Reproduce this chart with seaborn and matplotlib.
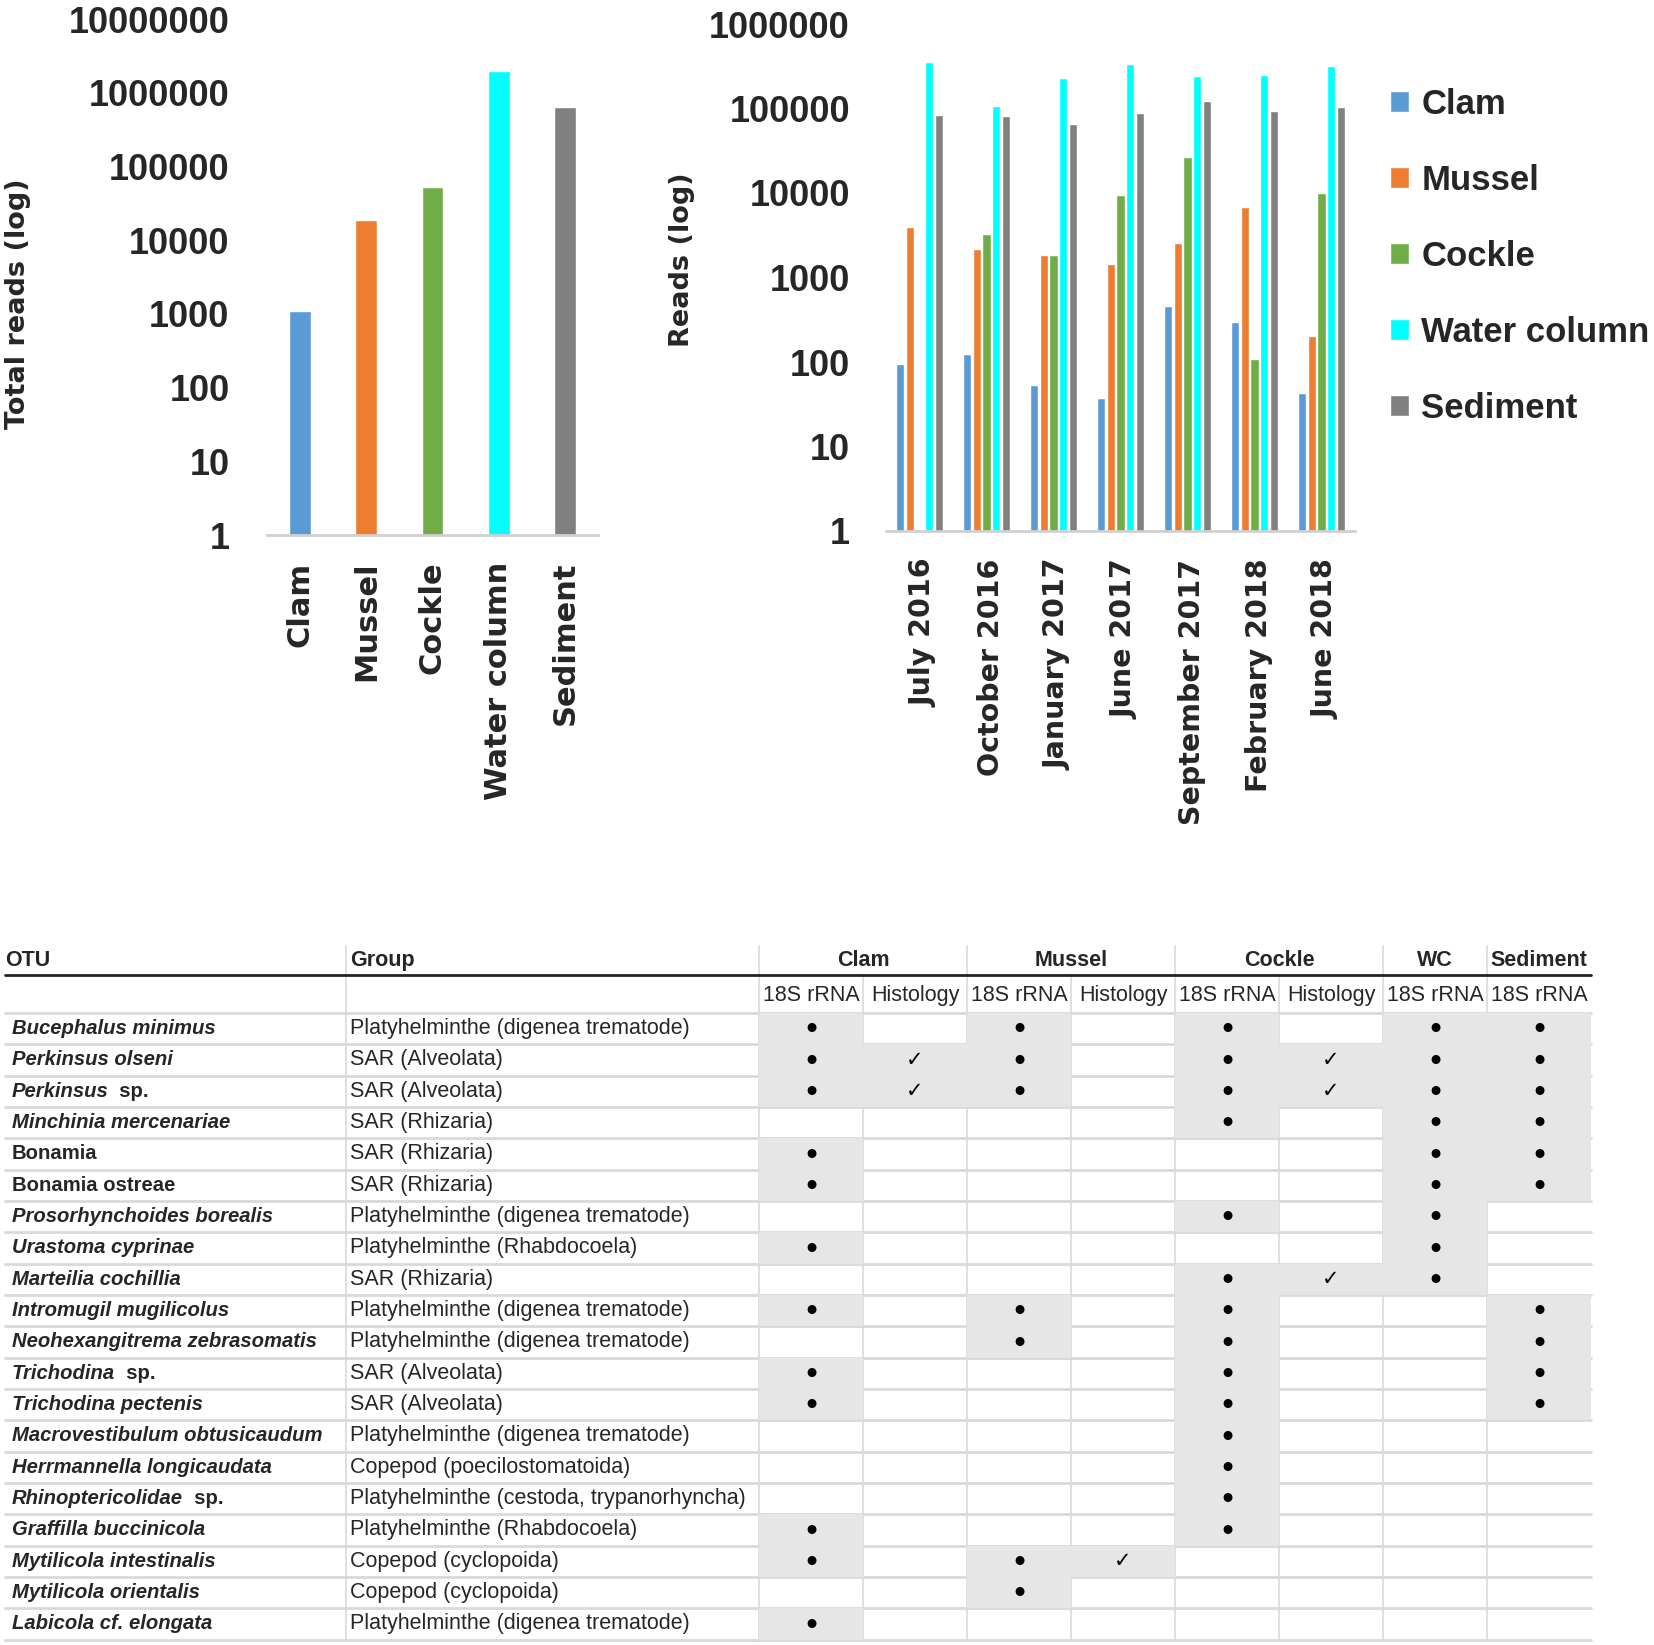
import numpy as np
import pandas as pd
import matplotlib
matplotlib.use("Agg")
import matplotlib.pyplot as plt
import matplotlib.ticker as mticker
from matplotlib.colors import ListedColormap
from matplotlib.patches import Patch
from matplotlib.transforms import blended_transform_factory, ScaledTranslation
import seaborn as sns

# ---- bar chart data ----
habitats = ["Clam", "Mussel", "Cockle", "Water column", "Sediment"]
habitat_colors = ["#5b9bd5", "#ed7d31", "#70ad47", "#00ffff", "#808080"]
total_reads = [1080, 18700, 52000, 1950000, 646000]

months = ["July 2016", "October 2016", "January 2017", "June 2017",
          "September 2017", "February 2018", "June 2018"]
clam_reads = [95, 123, 54, 37, 458, 298, 43]
mussel_reads = [3960, 2190, 1830, 1460, 2530, 6800, 205]
cockle_reads = [0, 3250, 1830, 9550, 26800, 109, 10000]
water_reads = [357000, 107000, 228000, 338000, 240000, 246000, 316000]
sediment_reads = [83000, 81000, 66000, 89000, 124000, 94000, 105000]

# ---- table data ----
otu_italic = ["Bucephalus minimus", "Perkinsus olseni", "Perkinsus", "Minchinia mercenariae",
              "", "", "Prosorhynchoides borealis", "Urastoma cyprinae", "Marteilia cochillia",
              "Intromugil mugilicolus", "Neohexangitrema zebrasomatis", "Trichodina",
              "Trichodina pectenis", "Macrovestibulum obtusicaudum", "Herrmannella longicaudata",
              "Rhinoptericolidae", "Graffilla buccinicola", "Mytilicola intestinalis",
              "Mytilicola orientalis", "Labicola cf. elongata"]
otu_upright = ["", "", "  sp.", "", "Bonamia", "Bonamia ostreae", "", "", "", "", "",
               "  sp.", "", "", "", "  sp.", "", "", "", ""]
groups = ["Platyhelminthe (digenea trematode)", "SAR (Alveolata)", "SAR (Alveolata)",
          "SAR (Rhizaria)", "SAR (Rhizaria)", "SAR (Rhizaria)",
          "Platyhelminthe (digenea trematode)", "Platyhelminthe (Rhabdocoela)",
          "SAR (Rhizaria)", "Platyhelminthe (digenea trematode)",
          "Platyhelminthe (digenea trematode)", "SAR (Alveolata)", "SAR (Alveolata)",
          "Platyhelminthe (digenea trematode)", "Copepod (poecilostomatoida)",
          "Platyhelminthe (cestoda, trypanorhyncha)", "Platyhelminthe (Rhabdocoela)",
          "Copepod (cyclopoida)", "Copepod (cyclopoida)", "Platyhelminthe (digenea trematode)"]
host_headers = ["Clam", "Mussel", "Cockle", "WC", "Sediment"]
method_headers = ["18S rRNA", "Histology", "18S rRNA", "Histology", "18S rRNA",
                  "Histology", "18S rRNA", "18S rRNA"]
# 0 = nothing, 1 = detected (dot), 2 = histology confirmed (tick)
clam_18s =    [1, 1, 1, 0, 1, 1, 0, 1, 0, 1, 0, 1, 1, 0, 0, 0, 1, 1, 0, 1]
clam_hist =   [0, 2, 2, 0, 0, 0, 0, 0, 0, 0, 0, 0, 0, 0, 0, 0, 0, 0, 0, 0]
mussel_18s =  [1, 1, 1, 0, 0, 0, 0, 0, 0, 1, 1, 0, 0, 0, 0, 0, 0, 1, 1, 0]
mussel_hist = [0, 0, 0, 0, 0, 0, 0, 0, 0, 0, 0, 0, 0, 0, 0, 0, 0, 2, 0, 0]
cockle_18s =  [1, 1, 1, 1, 0, 0, 1, 0, 1, 1, 1, 1, 1, 1, 1, 1, 1, 0, 0, 0]
cockle_hist = [0, 2, 2, 0, 0, 0, 0, 0, 2, 0, 0, 0, 0, 0, 0, 0, 0, 0, 0, 0]
wc_18s =      [1, 1, 1, 1, 1, 1, 1, 1, 1, 0, 0, 0, 0, 0, 0, 0, 0, 0, 0, 0]
sed_18s =     [1, 1, 1, 1, 1, 1, 0, 0, 0, 1, 1, 1, 1, 0, 0, 0, 0, 0, 0, 0]

sns.set_style("white")
plt.rcParams["font.family"] = ["DejaVu Sans"]

W, H = 1654, 1645
fig = plt.figure(figsize=(W / 100, H / 100), dpi=100)


def box(x0, y0, x1, y1):
    return [x0 / W, 1 - y1 / H, (x1 - x0) / W, (y1 - y0) / H]


def style_log(ax, top, labels, xsize, xpad, ypad):
    ax.set_yscale("log")
    ax.set_ylim(1, top)
    ticks = [10 ** k for k in range(int(np.log10(top)) + 1)]
    ax.set_yticks(ticks, labels=[str(t) for t in ticks], fontfamily="Liberation Sans",
                  fontweight="bold", fontsize=26)
    ax.yaxis.set_minor_locator(mticker.NullLocator())
    ax.set_xticks(range(len(labels)), labels=labels, rotation=90, fontweight="bold",
                  fontsize=xsize)
    ax.tick_params(axis="y", length=0, pad=ypad)
    ax.tick_params(axis="x", length=0, pad=xpad)
    ax.set_xlim(-0.5, len(labels) - 0.5)
    sns.despine(ax=ax, left=True)
    ax.spines["bottom"].set_color("#d0d0d0")
    ax.spines["bottom"].set_linewidth(2)
    ax.set_xlabel("")
    ax.set_ylabel("")


# ---- left chart ----
ax1 = fig.add_axes(box(267, 19, 598, 535))
sns.barplot(x=habitats, y=total_reads, hue=habitats, palette=habitat_colors,
            legend=False, width=0.33, saturation=1, ax=ax1)
style_log(ax1, 1e7, habitats, 22, 19, 27)
fig.text(18 / W, 1 - 304 / H, "Total reads (log)", rotation=90, ha="center", va="center",
         fontsize=19.5, fontweight="bold")

# ---- right chart ----
df = pd.DataFrame({
    "month": np.repeat(months, 5),
    "habitat": habitats * len(months),
    "reads": np.array([clam_reads, mussel_reads, cockle_reads, water_reads,
                       sediment_reads]).T.ravel(),
})
ax2 = fig.add_axes(box(886, 24, 1355, 531))
sns.barplot(data=df, x="month", y="reads", hue="habitat", hue_order=habitats,
            palette=habitat_colors, width=0.73, gap=0.15, saturation=1,
            legend=False, ax=ax2)
style_log(ax2, 1e6, months, 20.5, 20, 26)
shift = ScaledTranslation(4 / 100, 0, fig.dpi_scale_trans)
for lab in ax2.get_xticklabels():
    lab.set_transform(lab.get_transform() + shift)
fig.text(682 / W, 1 - 260 / H, "Reads (log)", rotation=90, ha="center", va="center",
         fontsize=19.5, fontweight="bold")

handles = [Patch(facecolor=c) for c in habitat_colors]
fig.legend(handles, habitats, loc="upper left", bbox_to_anchor=(1390 / W, 1 - 88 / H),
           frameon=False, borderpad=0, borderaxespad=0, handlelength=0.55,
           handleheight=0.55, handletextpad=0.35, labelspacing=1.24,
           prop={"family": "Liberation Sans", "weight": "bold", "size": 25})

# ---- table ----
codes = np.array([clam_18s, clam_hist, mussel_18s, mussel_hist,
                  cockle_18s, cockle_hist, wc_18s, sed_18s]).T
symbols = np.array(["", "\u2022", "\u2713"])[codes]
nrow, ncol = codes.shape
axt = fig.add_axes(box(759, 1013, 1591, 1013 + 31.33 * nrow))
sns.heatmap((codes > 0).astype(int), cmap=ListedColormap([(1, 1, 1, 0), "#e7e6e6"]),
            vmin=0, vmax=1, cbar=False, annot=symbols, fmt="", linewidths=0,
            xticklabels=False, yticklabels=False, annot_kws={"color": "black"}, ax=axt)
axt.collections[0].set_zorder(2)
for t in axt.texts:
    t.set_zorder(3)
    t.set_fontfamily("DejaVu Sans")
    x, y = t.get_position()
    if t.get_text() == "\u2022":
        t.set_fontsize(22)
        t.set_position((x, y + 0.07))
    else:
        t.set_fontsize(15)

tr = blended_transform_factory(fig.transFigure, axt.transData)
grid = "#d9d9d9"
# row separators
for r in range(nrow + 1):
    axt.plot([5 / W, 759 / W], [r, r], transform=tr, color=grid, lw=2, clip_on=False, zorder=1)
    axt.plot([0, ncol], [r, r], color=grid, lw=2, clip_on=False, zorder=1)
# column separators
for c in range(ncol):
    axt.plot([c, c], [-1.21, nrow], color=grid, lw=1.2, clip_on=False, zorder=1)
for c in [0, 2, 4, 6, 7]:
    axt.plot([c, c], [-2.14, -1.21], color=grid, lw=1.2, clip_on=False, zorder=1)
axt.plot([346 / W, 346 / W], [-2.14, nrow], transform=tr, color=grid, lw=1.2,
         clip_on=False, zorder=1)
axt.plot([5 / W, 1591 / W], [-1.21, -1.21], transform=tr, color="#222222", lw=2,
         clip_on=False, zorder=4)

tf = dict(family="Liberation Sans", fontsize=15.5)
otf = dict(family="Liberation Sans", fontsize=14.6, weight="bold")
axt.text(5 / W, -1.66, "OTU", transform=tr, ha="left", va="center", weight="bold", **tf)
axt.text(350 / W, -1.66, "Group", transform=tr, ha="left", va="center", weight="bold", **tf)
for name, x in zip(host_headers, [1, 3, 5, 6.5, 7.5]):
    axt.text(x, -1.66, name, ha="center", va="center", weight="bold", **tf)
for c, name in enumerate(method_headers):
    axt.text(c + 0.5, -0.57, name, ha="center", va="center", **tf)

for i in range(nrow):
    y = i + 0.5
    if otu_italic[i]:
        t1 = axt.text(11.6 / W, y, otu_italic[i], transform=tr, ha="left", va="center",
                      style="italic", **otf)
        if otu_upright[i]:
            axt.annotate(otu_upright[i], xy=(1, 0), xycoords=t1, ha="left", va="bottom",
                         **otf)
    else:
        axt.text(11.6 / W, y, otu_upright[i], transform=tr, ha="left", va="center", **otf)
    axt.text(350 / W, y, groups[i], transform=tr, ha="left", va="center", **tf)

fig.savefig("out.png", dpi=100, facecolor="white")
